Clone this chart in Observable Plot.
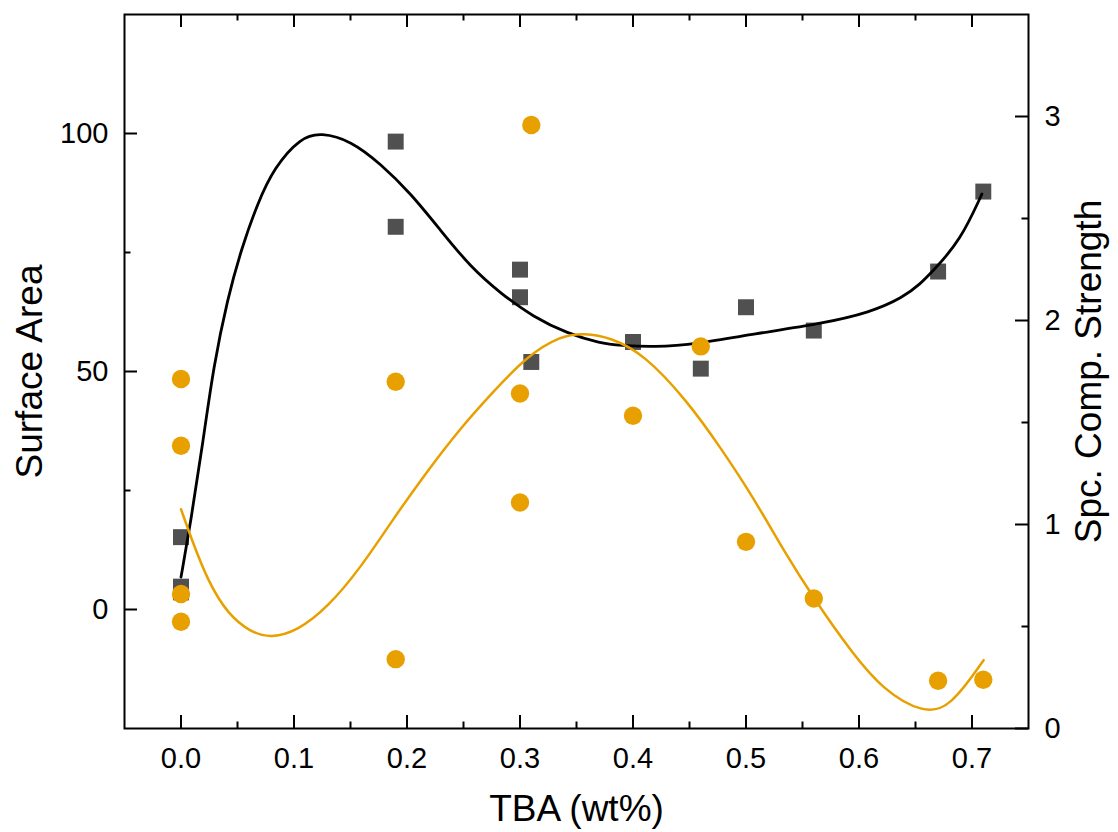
<!DOCTYPE html>
<html><head><meta charset="utf-8">
<script src="https://cdn.jsdelivr.net/npm/d3@7"></script>
<script src="https://cdn.jsdelivr.net/npm/@observablehq/plot@0.6"></script>
<style>
body{margin:0;background:#fff;}
#chart{position:relative;width:1118px;height:832px;}
#chart svg{position:absolute;left:0;top:0;}
</style></head><body><div id="chart"></div>
<script>
// Tick values
const xTicksMajor = [0, 0.1, 0.2, 0.3, 0.4, 0.5, 0.6, 0.7];
const xTicksMinor = [0.05, 0.15, 0.25, 0.35, 0.45, 0.55, 0.65];
const leftTicksMajor = [0, 50, 100];
const leftTicksMinor = [25, 75];
const rightTicksMajor = [0, 1, 2, 3];
const rightTicksMinor = [0.5, 1.5, 2.5];

// Surface Area (squares, left axis)
const areaX = [0, 0, 0, 0.19, 0.19, 0.30, 0.30, 0.31, 0.40, 0.46, 0.50, 0.56, 0.67, 0.71];
const areaY = [15.2, 4.8, 3.6, 98.3, 80.4, 71.4, 65.6, 52.0, 56.2, 50.6, 63.5, 58.6, 71.0, 87.8];

// Spc. Comp. Strength (circles, right axis)
const strengthX = [0, 0, 0, 0, 0.19, 0.19, 0.30, 0.30, 0.31, 0.40, 0.46, 0.50, 0.56, 0.67, 0.71];
const strengthY = [1.713, 1.386, 0.659, 0.523, 1.70, 0.340, 1.642, 1.108, 2.958, 1.533, 1.873, 0.915, 0.637, 0.234, 0.239];

// Fitted curve for Surface Area
const areaFitX = [0, 0.0088, 0.0192, 0.0289, 0.0413, 0.0531, 0.0678, 0.0825, 0.1061, 0.1238, 0.1503, 0.1768, 0.2034, 0.2299, 0.2564, 0.2829, 0.3121, 0.3419, 0.3714, 0.3890, 0.4182, 0.4569, 0.5069, 0.5659, 0.6101, 0.6393, 0.6543, 0.6658, 0.6897, 0.7088];
const areaFitY = [6.8, 18.7, 34.8, 51.3, 65.4, 75.5, 85.4, 92.9, 99.2, 100.2, 98.5, 93.6, 87.4, 79.6, 71.9, 66.4, 61.4, 58.0, 55.9, 55.5, 55.1, 55.8, 57.9, 60.0, 62.4, 65.6, 68.4, 71.2, 77.5, 87.3];

// Fitted curve for Spc. Comp. Strength
const strengthFitX = [0, 0.0088, 0.0236, 0.0413, 0.0619, 0.0796, 0.1032, 0.1297, 0.1592, 0.1886, 0.2181, 0.2476, 0.2770, 0.3066, 0.3360, 0.3566, 0.3802, 0.4097, 0.4480, 0.4775, 0.5066, 0.5334, 0.5600, 0.5924, 0.6219, 0.6572, 0.6808, 0.7103];
const strengthFitY = [1.075, 0.936, 0.724, 0.561, 0.471, 0.443, 0.479, 0.593, 0.789, 1.034, 1.263, 1.475, 1.655, 1.827, 1.925, 1.938, 1.917, 1.835, 1.606, 1.377, 1.132, 0.871, 0.637, 0.381, 0.185, 0.074, 0.103, 0.335];

const area = areaX.map((x, i) => ({x, y: areaY[i]}));
const strength = strengthX.map((x, i) => ({x, y: strengthY[i]}));
const areaFit = areaFitX.map((x, i) => ({x, y: areaFitY[i]}));
const strengthFit = strengthFitX.map((x, i) => ({x, y: strengthFitY[i]}));

const W = 1118, H = 832;
const mL = 124, mR = 90, mT = 14, mB = 104;
const pw = W - mL - mR, ph = H - mT - mB;
const majorLen = 13, minorLen = 6.5;
const font = "'Liberation Sans', Arial, Helvetica, sans-serif";
const orange = "#E8A000";
const xDomain = [-0.05, 0.75];
const tickFont = 29, titleFont = 37;

const common = {
  width: W, height: H,
  marginLeft: mL, marginRight: mR, marginTop: mT, marginBottom: mB
};

const chartA = Plot.plot({
  ...common,
  style: {fontFamily: font, color: "black", background: "white"},
  x: {domain: xDomain},
  y: {domain: [-25, 125]},
  marks: [
    Plot.tickX(xTicksMajor, {x: d => d, insetTop: ph - majorLen, stroke: "black", strokeWidth: 2}),
    Plot.tickX(xTicksMinor, {x: d => d, insetTop: ph - minorLen, stroke: "black", strokeWidth: 2}),
    Plot.tickX(xTicksMajor, {x: d => d, insetBottom: ph - majorLen, stroke: "black", strokeWidth: 2}),
    Plot.tickX(xTicksMinor, {x: d => d, insetBottom: ph - minorLen, stroke: "black", strokeWidth: 2}),
    Plot.tickY(leftTicksMajor, {y: d => d, insetRight: pw - majorLen, stroke: "black", strokeWidth: 2}),
    Plot.tickY(leftTicksMinor, {y: d => d, insetRight: pw - minorLen, stroke: "black", strokeWidth: 2}),
    Plot.axisX(xTicksMajor, {tickSize: 0, tickPadding: 19, fontSize: tickFont, tickFormat: d3.format(".1f"), label: null}),
    Plot.axisY(leftTicksMajor, {anchor: "left", tickSize: 0, tickPadding: 16, fontSize: tickFont, tickFormat: d => String(d), label: null}),
    Plot.text(["Surface Area"], {text: d => d, frameAnchor: "left", dx: -94, rotate: -90, fontSize: titleFont, lineAnchor: "middle", textAnchor: "middle", fill: "black"}),
    Plot.text(["TBA (wt%)"], {text: d => d, frameAnchor: "bottom", dy: 81, fontSize: titleFont, lineAnchor: "middle", textAnchor: "middle", fill: "black"}),
    Plot.dot(area, {x: "x", y: "y", symbol: "square", r: 9, fill: "#505050", stroke: "none"}),
    Plot.line(areaFit, {x: "x", y: "y", curve: "basis", stroke: "black", strokeWidth: 2.8}),
    Plot.frame({stroke: "black", strokeWidth: 2})
  ]
});

const chartB = Plot.plot({
  ...common,
  style: {fontFamily: font, color: "black", background: "transparent"},
  x: {domain: xDomain, axis: null},
  y: {domain: [0, 3.5]},
  marks: [
    Plot.tickY(rightTicksMajor, {y: d => d, insetLeft: pw - majorLen, stroke: "black", strokeWidth: 2}),
    Plot.tickY(rightTicksMinor, {y: d => d, insetLeft: pw - minorLen, stroke: "black", strokeWidth: 2}),
    Plot.axisY(rightTicksMajor, {anchor: "right", tickSize: 0, tickPadding: 16, fontSize: tickFont, tickFormat: d => String(d), label: null}),
    Plot.text(["Spc. Comp. Strength"], {text: d => d, frameAnchor: "right", dx: 61, rotate: -90, fontSize: titleFont, lineAnchor: "middle", textAnchor: "middle", fill: "black"}),
    Plot.dot(strength, {x: "x", y: "y", r: 9.2, fill: orange, stroke: "none"}),
    Plot.line(strengthFit, {x: "x", y: "y", curve: "basis", stroke: orange, strokeWidth: 2.5})
  ]
});

const el = document.getElementById("chart");
el.appendChild(chartA);
el.appendChild(chartB);
</script>
</body></html>
